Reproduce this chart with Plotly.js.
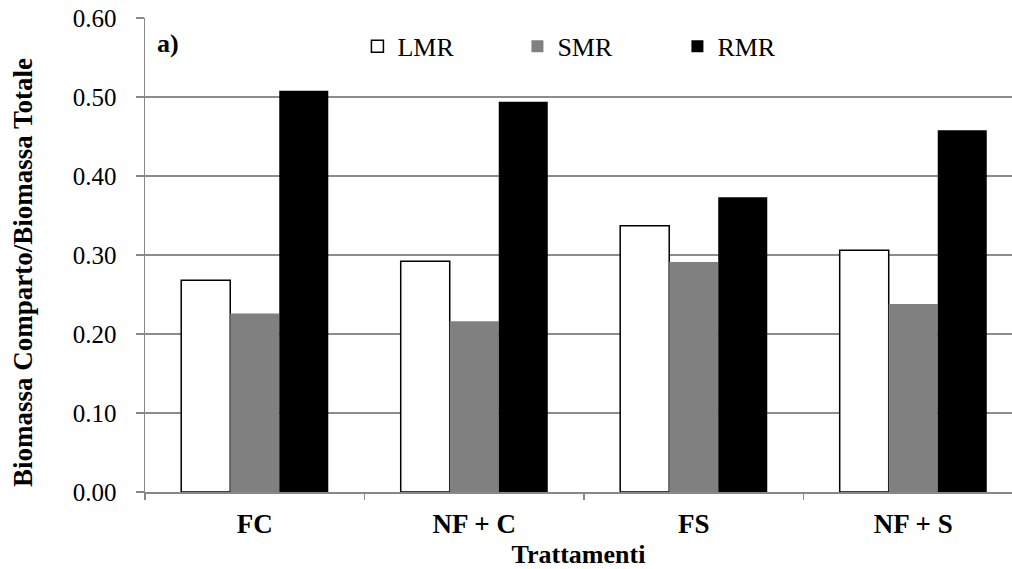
<!DOCTYPE html>
<html><head><meta charset="utf-8">
<script src="https://cdn.plot.ly/plotly-3.0.1.min.js"></script>
<style>html,body{margin:0;padding:0;background:#fff}#chart{width:1012px;height:569px}</style>
</head><body><div id="chart"></div>
<script>
const categories = ["FC", "NF + C", "FS", "NF + S"];
const LMR = [0.268, 0.292, 0.337, 0.306];
const SMR = [0.226, 0.216, 0.291, 0.238];
const RMR = [0.508, 0.494, 0.373, 0.458];
const yTicks = [0, 0.1, 0.2, 0.3, 0.4, 0.5, 0.6];
const yTickLabels = ["0.00","0.10","0.20","0.30","0.40","0.50","0.60"];

const font = "Liberation Serif, Times New Roman, serif";
const traces = [
  {type:"bar", name:"LMR", x:categories, y:LMR, marker:{color:"#ffffff", line:{color:"#000000", width:1.5}}},
  {type:"bar", name:"SMR", x:categories, y:SMR, marker:{color:"#808080", line:{color:"#808080", width:0}}},
  {type:"bar", name:"RMR", x:categories, y:RMR, marker:{color:"#000000", line:{color:"#000000", width:0}}}
];
const layout = {
  width:1012, height:569,
  margin:{l:145, r:0, t:18, b:77},
  paper_bgcolor:"#fff", plot_bgcolor:"#fff",
  font:{family:font, color:"#000", size:20},
  barmode:"group", bargap:0.33, bargroupgap:0,
  showlegend:true,
  legend:{orientation:"h", x:0.245, y:0.99, xanchor:"left", yanchor:"top",
          font:{family:font, size:26, color:"#000"}, entrywidth:115, entrywidthmode:"pixels",
          bgcolor:"rgba(0,0,0,0)", traceorder:"normal", itemwidth:30},
  xaxis:{type:"category", range:[-0.5, 3.45], showline:true, linecolor:"#888", linewidth:1.5,
         ticks:"outside", tickson:"boundaries", ticklen:6, tickcolor:"#888", tickwidth:1.5,
         ticklabelstandoff:7,
         tickfont:{family:font, size:27, color:"#000", weight:"bold"},
         title:{text:"<b>Trattamenti</b>", font:{family:font, size:26, color:"#000"}, standoff:10},
         showgrid:false, zeroline:false, fixedrange:true},
  yaxis:{range:[0, 0.6], tickvals:yTicks, ticktext:yTickLabels, showline:true, linecolor:"#888", linewidth:1.5,
         ticks:"outside", ticklen:8, tickcolor:"#888", tickwidth:1.5, ticklabelstandoff:14,
         tickfont:{family:font, size:25, color:"#000"},
         showgrid:true, gridcolor:"#8c8c8c", gridwidth:1.5, zeroline:false,
         fixedrange:true},
  annotations:[
    {xref:"paper", yref:"paper", x:0.012, y:0.946, xanchor:"left", yanchor:"middle",
     text:"<b>a)</b>", showarrow:false, font:{family:font, size:26, color:"#000"}},
    {xref:"paper", yref:"paper", x:-0.1407, y:0.462, xanchor:"center", yanchor:"middle", textangle:-90,
     text:"<b>Biomassa Comparto/Biomassa Totale</b>", showarrow:false, font:{family:font, size:27, color:"#000"}}
  ]
};
Plotly.newPlot("chart", traces, layout, {displayModeBar:false, staticPlot:true});
</script></body></html>
